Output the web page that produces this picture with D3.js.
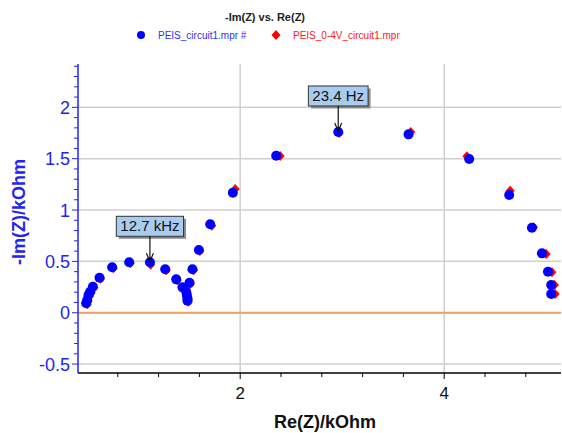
<!DOCTYPE html>
<html><head><meta charset="utf-8">
<script src="https://cdn.jsdelivr.net/npm/d3@7"></script>
<style>html,body{margin:0;padding:0;background:#fff}svg{display:block}</style>
</head><body>
<svg id="c" width="562" height="433"></svg>
<script>
const seriesNames = ["PEIS_circuit1.mpr #", "PEIS_0-4V_circuit1.mpr"];
const blueRe = [0.490,0.500,0.513,0.529,0.556,0.621,0.745,0.912,1.115,1.265,1.373,1.434,1.471,1.477,1.483,1.483,1.503,1.532,1.595,1.706,1.928,2.353,2.961,3.650,4.245,4.637,4.860,4.958,5.017,5.049,5.049];
const blueIm = [0.092,0.124,0.172,0.204,0.253,0.341,0.442,0.491,0.491,0.423,0.325,0.247,0.204,0.172,0.140,0.117,0.292,0.423,0.611,0.861,1.168,1.529,1.760,1.737,1.497,1.146,0.828,0.578,0.399,0.270,0.182];
const redRe = [0.500,0.510,0.523,0.540,0.566,0.632,0.756,0.922,1.122,1.275,1.383,1.444,1.480,1.487,1.492,1.492,1.513,1.542,1.605,1.722,1.951,2.392,2.971,3.672,4.222,4.647,4.876,5.000,5.056,5.081,5.088];
const redIm = [0.082,0.114,0.162,0.194,0.243,0.331,0.432,0.481,0.466,0.413,0.315,0.237,0.194,0.162,0.130,0.107,0.282,0.413,0.601,0.847,1.204,1.526,1.750,1.759,1.523,1.188,0.832,0.572,0.393,0.270,0.182];
const annotations = [{label:"12.7 kHz", index:8}, {label:"23.4 Hz", index:22}];
const xTickLabels = [2, 4];
const yTickLabels = [-0.5, 0, 0.5, 1, 1.5, 2];
const title = "-Im(Z) vs. Re(Z)";
const xTitle = "Re(Z)/kOhm";
const yTitle = "-Im(Z)/kOhm";

const svg = d3.select("#c");
const L = 78, R = 561, T = 64, B = 373;
const x = d3.scaleLinear().domain([0.41, 5.145]).range([L, R]);
const y = d3.scaleLinear().domain([-0.587, 2.422]).range([B, T]);
const BLUE = "#0000ff", RED = "#ff0000", AXBLUE = "#2424f0";

// grid
const g = svg.append("g");
g.selectAll(".hg").data(yTickLabels).enter().append("line")
  .attr("x1", L).attr("x2", R).attr("y1", d => y(d)).attr("y2", d => y(d))
  .attr("stroke", "#cfcfcf").attr("stroke-width", 1.5);
g.selectAll(".vg").data(xTickLabels).enter().append("line")
  .attr("y1", T).attr("y2", B).attr("x1", d => x(d)).attr("x2", d => x(d))
  .attr("stroke", "#cfcfcf").attr("stroke-width", 1.5);
// zero line
g.append("line").attr("x1", L).attr("x2", R).attr("y1", y(0)).attr("y2", y(0))
  .attr("stroke", "#f0a060").attr("stroke-width", 2);

// x axis
const xMinor = d3.range(0.8, 5.0, 0.4);
const xa = svg.append("g");
xa.append("line").attr("x1", L).attr("x2", R).attr("y1", B).attr("y2", B).attr("stroke", "#000").attr("stroke-width", 1.5);
xa.selectAll(".xt").data(xMinor).enter().append("line")
  .attr("x1", d => x(d)).attr("x2", d => x(d)).attr("y1", B)
  .attr("y2", d => (Math.abs(d - Math.round(d)) < 0.01 && Math.round(d) % 2 === 0) ? B + 6 : B + 4)
  .attr("stroke", "#000").attr("stroke-width", 1);
xa.selectAll(".xl").data(xTickLabels).enter().append("text")
  .attr("x", d => x(d)).attr("y", 399).attr("text-anchor", "middle")
  .attr("font-family", "Arial, Liberation Sans, sans-serif").attr("font-size", 17).attr("fill", "#111")
  .text(d => d);
svg.append("text").attr("x", 325).attr("y", 428).attr("text-anchor", "middle")
  .attr("font-family", "Arial, Liberation Sans, sans-serif").attr("font-size", 18).attr("font-weight", "bold")
  .attr("fill", "#111").text(xTitle);

// y axis
const yMinor = d3.range(-5, 25).map(i => i / 10);
const ya = svg.append("g");
ya.append("line").attr("x1", L).attr("x2", L).attr("y1", T).attr("y2", B).attr("stroke", AXBLUE).attr("stroke-width", 1.5);
ya.selectAll(".yt").data(yMinor).enter().append("line")
  .attr("y1", d => y(d)).attr("y2", d => y(d)).attr("x2", L)
  .attr("x1", d => (Math.round(d * 10) % 5 === 0) ? L - 6 : L - 4)
  .attr("stroke", AXBLUE).attr("stroke-width", 1);
ya.selectAll(".yl").data(yTickLabels).enter().append("text")
  .attr("x", 70).attr("y", d => y(d) + 6.5).attr("text-anchor", "end")
  .attr("font-family", "Arial, Liberation Sans, sans-serif").attr("font-size", 18).attr("fill", AXBLUE)
  .text(d => d);
svg.append("text").attr("transform", "translate(25,212) rotate(-90)").attr("text-anchor", "middle")
  .attr("font-family", "Arial, Liberation Sans, sans-serif").attr("font-size", 18).attr("font-weight", "bold")
  .attr("fill", AXBLUE).text(yTitle);

// data
function diamond(cx, cy) {
  const p = d3.path();
  p.moveTo(cx, cy - 5); p.lineTo(cx + 4.5, cy); p.lineTo(cx, cy + 5); p.lineTo(cx - 4.5, cy); p.closePath();
  return p.toString();
}
const redData = redRe.map((v, i) => [v, redIm[i]]);
const blueData = blueRe.map((v, i) => [v, blueIm[i]]);
svg.append("g").selectAll("path").data(redData).enter().append("path")
  .attr("d", d => diamond(x(d[0]), y(d[1]))).attr("fill", RED);
svg.append("g").selectAll("circle").data(blueData).enter().append("circle")
  .attr("cx", d => x(d[0])).attr("cy", d => y(d[1])).attr("r", 5).attr("fill", BLUE);

// annotations
annotations.forEach(a => {
  const px = x(blueRe[a.index]), py = y(blueIm[a.index]);
  const ag = svg.append("g");
  const t = ag.append("text").attr("x", px).attr("y", py - 31)
    .attr("text-anchor", "middle").attr("font-family", "Arial, Liberation Sans, sans-serif")
    .attr("font-size", 15).attr("fill", "#111").text(a.label);
  const bb = t.node().getBBox();
  const bx = bb.x - 4, bw = bb.width + 8, by = py - 46, bh = 20;
  ag.insert("rect", "text").attr("x", bx + 2.5).attr("y", by + 2.5).attr("width", bw).attr("height", bh).attr("fill", "#8a8a8a");
  ag.insert("rect", "text").attr("x", bx).attr("y", by).attr("width", bw).attr("height", bh)
    .attr("fill", "#a8ccf0").attr("stroke", "#333").attr("stroke-width", 1);
  ag.append("line").attr("x1", px).attr("x2", px).attr("y1", by + bh).attr("y2", py - 1).attr("stroke", "#111").attr("stroke-width", 1.2);
  ag.append("path").attr("d", `M${px - 3.5},${py - 9} L${px},${py - 1} L${px + 3.5},${py - 9}`)
    .attr("fill", "none").attr("stroke", "#111").attr("stroke-width", 1.2);
});

// title & legend
svg.append("text").attr("x", 265).attr("y", 21).attr("text-anchor", "middle")
  .attr("font-family", "Arial, Liberation Sans, sans-serif").attr("font-size", 11).attr("font-weight", "bold")
  .attr("fill", "#222").text(title);
svg.append("circle").attr("cx", 141).attr("cy", 35).attr("r", 4).attr("fill", BLUE);
svg.append("text").attr("x", 158).attr("y", 39).attr("font-family", "Arial, Liberation Sans, sans-serif")
  .attr("font-size", 10).attr("fill", "#3030ff").text(seriesNames[0]);
svg.append("path").attr("d", diamond(276, 35)).attr("fill", RED);
svg.append("text").attr("x", 293).attr("y", 39).attr("font-family", "Arial, Liberation Sans, sans-serif")
  .attr("font-size", 10).attr("fill", "#ff2020").text(seriesNames[1]);
</script>
</body></html>
